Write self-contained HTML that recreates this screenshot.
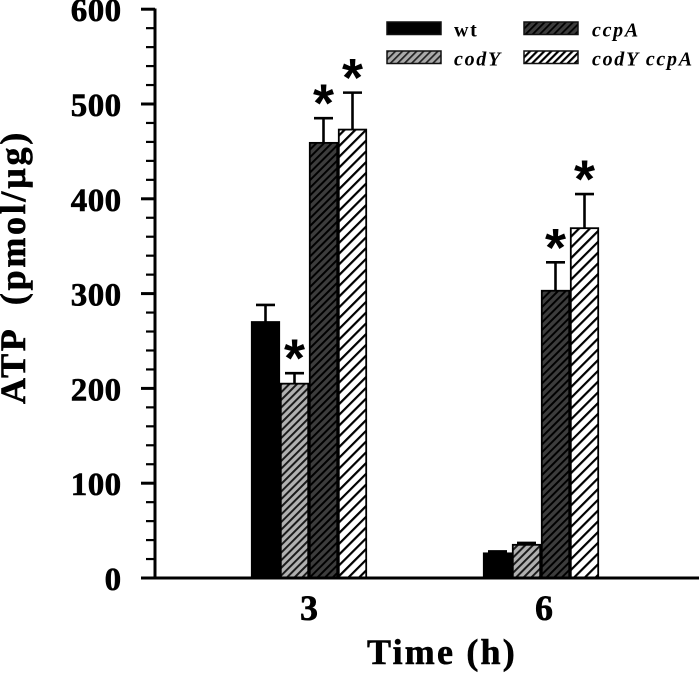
<!DOCTYPE html>
<html>
<head>
<meta charset="utf-8">
<style>
html,body{margin:0;padding:0;background:#fff;width:700px;height:674px;overflow:hidden}
svg{display:block}
text{font-family:"Liberation Serif",serif;font-weight:bold;fill:#000}
.heavy{stroke:#000;stroke-width:.6px}
</style>
</head>
<body>
<svg id="chart" width="700" height="674" viewBox="0 0 700 674" xmlns="http://www.w3.org/2000/svg">
<defs>
<pattern id="hatch-dark" patternUnits="userSpaceOnUse" width="5.4" height="5.4" patternTransform="rotate(45)">
<rect width="5.4" height="5.4" fill="#3c3c3c"/><rect width="2" height="5.4" fill="#000"/>
</pattern>
<pattern id="hatch-grey" patternUnits="userSpaceOnUse" width="5.4" height="5.4" patternTransform="rotate(45)">
<rect width="5.4" height="5.4" fill="#b0b0b0"/><rect width="2" height="5.4" fill="#1a1a1a"/>
</pattern>
<pattern id="hatch-white" patternUnits="userSpaceOnUse" width="7.6" height="7.6" patternTransform="rotate(45)">
<rect width="7.6" height="7.6" fill="#fff"/><rect width="2.2" height="7.6" fill="#000"/>
</pattern>
<pattern id="leg-dark" patternUnits="userSpaceOnUse" width="5" height="5" patternTransform="rotate(45)">
<rect width="5" height="5" fill="#3c3c3c"/><rect width="1.8" height="5" fill="#000"/>
</pattern>
<pattern id="leg-grey" patternUnits="userSpaceOnUse" width="5" height="5" patternTransform="rotate(45)">
<rect width="5" height="5" fill="#aaa"/><rect width="1.7" height="5" fill="#222"/>
</pattern>
<pattern id="leg-white" patternUnits="userSpaceOnUse" width="5" height="5" patternTransform="rotate(45)">
<rect width="5" height="5" fill="#fff"/><rect width="2.2" height="5" fill="#000"/>
</pattern>
</defs>
<g id="bars"></g>
<g id="axes"></g>
<g id="legend"></g>
<text class="heavy" transform="translate(25,267) rotate(-90)" text-anchor="middle" font-size="36" letter-spacing="2.7" xml:space="preserve">ATP  (pmol/µg)</text>
<text class="heavy" x="442" y="664" text-anchor="middle" font-size="36" letter-spacing="2.2">Time (h)</text>
</svg>
<script>
const timeLabels = ['3', '6'];
const seriesNames = ['wt', 'ccpA', 'codY', 'codY ccpA'];
const seriesOrder = ['wt', 'codY', 'ccpA', 'codY ccpA'];
const wtValues = [270, 26];
const codYValues = [205, 35];
const ccpAValues = [459, 303];
const codYccpAValues = [473, 369];
const wtErrors = [18, 2];
const codYErrors = [11, 2];
const ccpAErrors = [26, 30];
const codYccpAErrors = [39, 36];
const wtStars = [false, false];
const codYStars = [true, false];
const ccpAStars = [true, true];
const codYccpAStars = [true, true];
const yTicks = [0, 100, 200, 300, 400, 500, 600];
const minorStep = 20;

const NS = 'http://www.w3.org/2000/svg';
const Y0 = 578, PXPER = 94.8 / 100;
const yScale = v => Y0 - v * PXPER;
const groupCenter = i => 309 + i * 232;
const BW = 29;
const barX = (g, s) => groupCenter(g) - 2 * BW + s * BW;

const values = {'wt': wtValues, 'codY': codYValues, 'ccpA': ccpAValues, 'codY ccpA': codYccpAValues};
const errors = {'wt': wtErrors, 'codY': codYErrors, 'ccpA': ccpAErrors, 'codY ccpA': codYccpAErrors};
const stars = {'wt': wtStars, 'codY': codYStars, 'ccpA': ccpAStars, 'codY ccpA': codYccpAStars};
const fills = {'wt': '#000', 'codY': 'url(#hatch-grey)', 'ccpA': 'url(#hatch-dark)', 'codY ccpA': 'url(#hatch-white)'};
const legFills = {'wt': '#000', 'codY': 'url(#leg-grey)', 'ccpA': 'url(#leg-dark)', 'codY ccpA': 'url(#leg-white)'};

function mk(parent, tag, attrs, text) {
  const el = document.createElementNS(NS, tag);
  for (const k in attrs) el.setAttribute(k, attrs[k]);
  if (text !== undefined) el.textContent = text;
  parent.appendChild(el);
  return el;
}

const barsG = document.getElementById('bars');
const axesG = document.getElementById('axes');
const legendG = document.getElementById('legend');

timeLabels.forEach((t, g) => {
  seriesOrder.forEach((s, si) => {
    const x = barX(g, si);
    const v = values[s][g];
    const err = errors[s][g];
    const cx = x + BW / 2;
    const top = yScale(v);
    const errTop = yScale(v + err);

    const stem = mk(barsG, 'line', {x1: cx, x2: cx, y1: top, y2: errTop, stroke: '#000', 'stroke-width': 2.6});
    
    
    const cap = mk(barsG, 'line', {x1: cx - 9.5, x2: cx + 9.5, y1: errTop, y2: errTop, stroke: '#000', 'stroke-width': 2.6});
    
    

    const bar = mk(barsG, 'rect', {x: x + 0.8, y: top, width: BW - 1.6, height: Y0 - top, fill: fills[s], stroke: '#000', 'stroke-width': 1.8});
    
    

    if (stars[s][g]) {
      const star = mk(barsG, 'text', {x: cx, y: errTop + 3.5, 'text-anchor': 'middle', 'font-size': 54, style: 'font-family:"Liberation Sans",sans-serif;font-weight:bold'}, '*');
      
      
    }
  });
  const lab = mk(axesG, 'text', {x: groupCenter(g) + g * 3, y: 620, 'text-anchor': 'middle', 'font-size': 36, class: 'heavy'}, t);
  
  
});

const yAxis = mk(axesG, 'line', {x1: 155, x2: 155, y1: 8.5, y2: 579.5, stroke: '#000', 'stroke-width': 3});


const xAxis = mk(axesG, 'line', {x1: 153.5, x2: 699, y1: 578, y2: 578, stroke: '#000', 'stroke-width': 3});



const yMax = yTicks[yTicks.length - 1];
for (let v = 0; v <= yMax; v += minorStep) {
  const major = yTicks.includes(v);
  const t = mk(axesG, 'line', {x1: major ? 141 : 146, x2: 155, y1: yScale(v), y2: yScale(v), stroke: '#000', 'stroke-width': major ? 3 : 2.2});
  
  
}
yTicks.forEach(v => {
  const l = mk(axesG, 'text', {x: 121.5, y: yScale(v) + 12, 'text-anchor': 'end', 'font-size': 33, 'letter-spacing': 0.4, class: 'heavy'}, String(v));
  
  
});

const legCols = [387, 524];
const legRows = [22, 51];
const legTextCols = [454, 592];
seriesNames.forEach((s, i) => {
  const col = i < 2 ? i : i - 2;
  const row = i < 2 ? 0 : 1;
  const sw = mk(legendG, 'rect', {x: legCols[col], y: legRows[row], width: 54, height: 12.5, fill: legFills[s], stroke: '#111', 'stroke-width': 1.5});
  
  
  const italic = s !== 'wt';
  const tx = mk(legendG, 'text', {x: legTextCols[col], y: legRows[row] + 14.7, 'font-size': 20, 'letter-spacing': 1.7, 'font-style': italic ? 'italic' : 'normal'}, s);
  
  
});
</script>
</body>
</html>
